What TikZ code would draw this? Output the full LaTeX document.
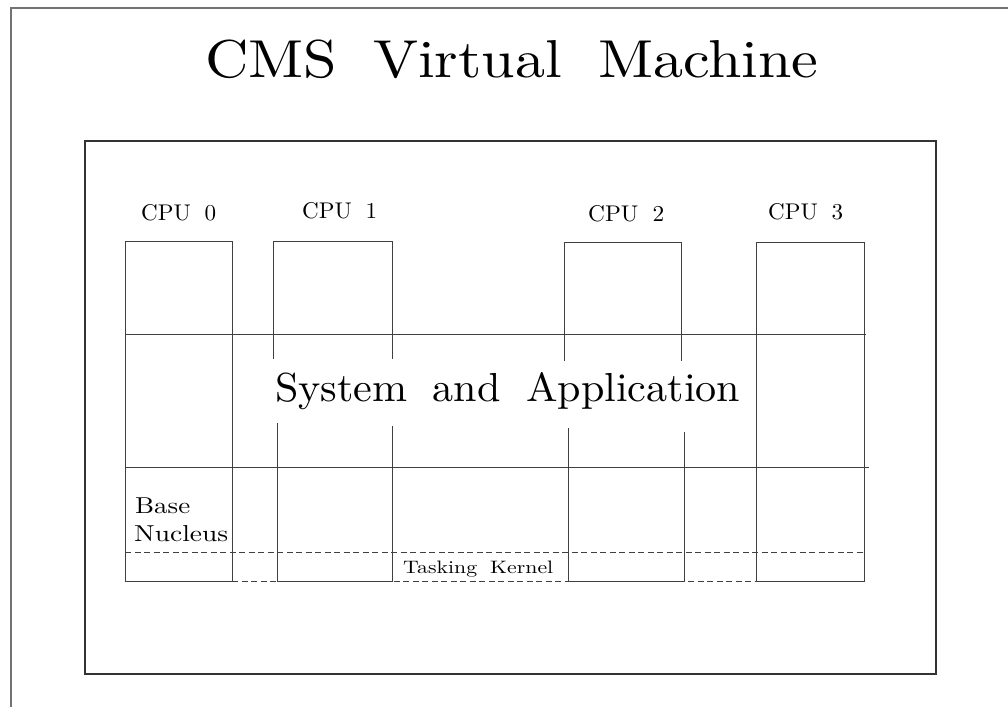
\documentclass[tikz,border=0pt]{standalone}
\usepackage{graphicx}
\tikzset{
  vmframe/.style={line width=1.2pt, black!80},
  cpuline/.style={line width=0.9pt, black!75},
  kernline/.style={cpuline, dash pattern=on 6pt off 3.5pt},
  lbl/.style={inner sep=0pt, anchor=base west},
}
\newcommand{\fitto}[3]{\resizebox{#1pt}{#2pt}{\spaceskip=.6em\relax #3}}
\begin{document}
\begin{tikzpicture}[x=1pt,y=-1pt]
    \useasboundingbox (0,0) rectangle (1008,707);
    \draw [line width=1.5pt, black!55] (11,707) -- (11,8) -- (1008,8);
    \draw [vmframe] (85,141) rectangle (936,674);
    \node [lbl] (title) at (205,77) {\fitto{613}{37.6}{CMS Virtual Machine}};
    \node [lbl] (cpu0) at (141,220.5) {\fitto{75}{16}{CPU 0}};
    \node [lbl] (cpu1) at (302,218) {\fitto{75}{16}{CPU 1}};
    \node [lbl] (cpu2) at (588,221.5) {\fitto{76}{16}{CPU 2}};
    \node [lbl] (cpu3) at (768,219) {\fitto{75}{16}{CPU 3}};
    \draw [cpuline] (125,241) rectangle (232,581);
    \draw [cpuline] (273,359) -- (273,241) -- (392,241) -- (392,359);
    \draw [cpuline] (277,423) -- (277,581) -- (392,581) -- (392,426);
    \draw [cpuline] (564,361) -- (564,242) -- (681,242) -- (681,361);
    \draw [cpuline] (568,428) -- (568,581) -- (684,581) -- (684,432);
    \draw [cpuline] (756,242) rectangle (864,581);
    \draw [cpuline] (125,334) -- (866,334);
    \draw [cpuline] (125,467) -- (869,467);
    \draw [kernline] (125,552) -- (864,552);
    \draw [kernline] (232,581) -- (756,581);
    \node [lbl] (sysapp) at (275,401) {\fitto{465}{29}{System and Application}};
    \node [lbl] (base) at (135,513) {\fitto{55}{15.7}{Base}};
    \node [lbl] (nucleus) at (134,541) {\fitto{94}{16}{Nucleus}};
    \node [lbl] (kernel) at (403,573) {\fitto{150}{12.5}{Tasking Kernel}};
\end{tikzpicture}
\end{document}
